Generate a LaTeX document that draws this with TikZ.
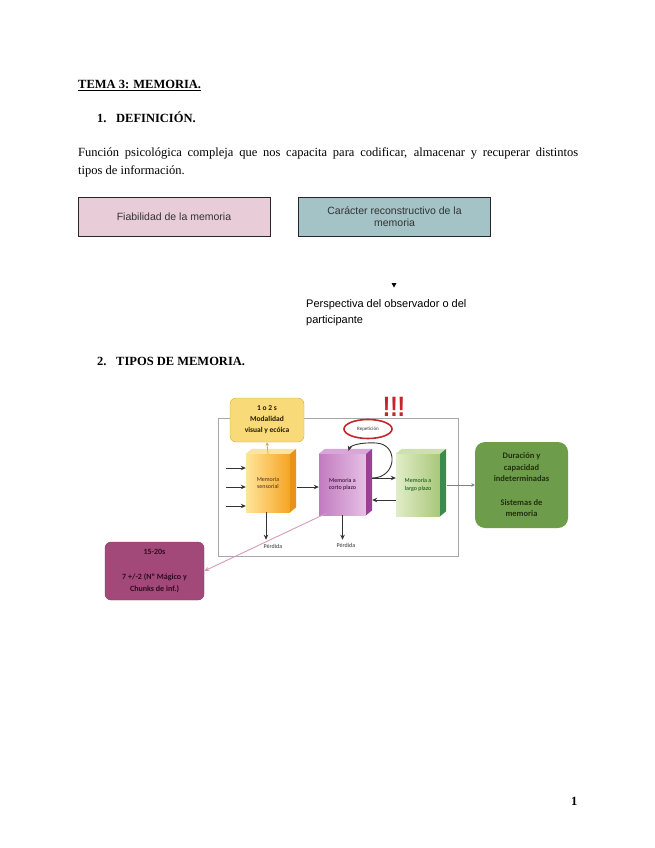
\documentclass[tikz,border=0pt]{standalone}
\usepackage{fontspec}
\usepackage{graphicx}
\setmainfont{Liberation Serif}
\newfontfamily\arialfont{Liberation Sans}
\newfontfamily\calfont{Carlito}
\usetikzlibrary{arrows.meta,positioning,shapes.geometric}

\definecolor{fiabpink}{HTML}{E8CCD8}
\definecolor{recteal}{HTML}{A3C3C6}
\definecolor{ylwfill}{HTML}{F8DA78}
\definecolor{ylwedge}{HTML}{D4A94A}
\definecolor{grnfill}{HTML}{6D9C4A}
\definecolor{grntext}{HTML}{23300F}
\definecolor{plmfill}{HTML}{A3497A}
\definecolor{plmtext}{HTML}{2E0A1E}
\definecolor{exred}{HTML}{C1272D}
\definecolor{framegray}{HTML}{A8A8A8}
\definecolor{arrgray}{HTML}{333333}
\definecolor{pinkline}{HTML}{D89AB8}
\definecolor{sensA}{HTML}{FFE59A}
\definecolor{sensB}{HTML}{F5A423}
\definecolor{sensTop}{HTML}{FDE3A0}
\definecolor{sensSide}{HTML}{E8921C}
\definecolor{cortoA}{HTML}{C27BC0}
\definecolor{cortoB}{HTML}{E6C0E4}
\definecolor{cortoTop}{HTML}{D9A6D8}
\definecolor{cortoSide}{HTML}{9C3F96}
\definecolor{largoA}{HTML}{E0EDC8}
\definecolor{largoB}{HTML}{A9C77A}
\definecolor{largoTop}{HTML}{CFE0B0}
\definecolor{largoSide}{HTML}{3E8A4E}

% top and right faces of a memory cube
\newcommand{\cubefaces}[3]{%
  \fill[#2] (#1.north west) -- ++(6,-5) -- ([shift={(6,-5)}]#1.north east) -- (#1.north east) -- cycle;
  \fill[#3] (#1.north east) -- ++(6,-5) -- ([shift={(6,-5)}]#1.south east) -- (#1.south east) -- cycle;
}

\begin{document}
\begin{tikzpicture}[
    x=1pt, y=-1pt,
    txt/.style={anchor=base west, inner sep=0pt, font=\fontsize{12.5}{15}\selectfont},
    hdr/.style={txt, font=\bfseries\fontsize{12.5}{15}\selectfont},
    topbox/.style={draw=black!85, line width=0.8pt, minimum width=192, minimum height=39, align=center, text=black!80, font=\arialfont\fontsize{10.5}{12.5}\selectfont},
    cube/.style={minimum width=44, minimum height=58, inner sep=0pt, align=center, font=\calfont\fontsize{6}{7.5}\selectfont},
    roundbox/.style={rounded corners=6pt, align=center, inner sep=0pt},
    arr/.style={-{Stealth[length=5pt,width=4.5pt]}, line width=0.9pt, draw=arrgray},
    smalllab/.style={font=\calfont\fontsize{6}{7}\selectfont, text=arrgray, inner sep=0pt}
]
\useasboundingbox (0,0) rectangle (655,848);

% headings and text
\node[hdr] (tema) at (78,89) {\underline{TEMA 3: MEMORIA.}};
\node[hdr] (num1) at (97,122) {1.};
\node[hdr] (defin) at (116,122) {DEFINICIÓN.};
\node[txt] (par1) at (78,157) {\makebox[500pt][s]{Función psicológica compleja que nos capacita para codificar, almacenar y recuperar distintos}};
\node[txt] (par2) at (78,174) {tipos de información.};

\node[topbox, fill=fiabpink] (fiab) at (174,216.5) {Fiabilidad de la memoria};
\node[topbox, fill=recteal] (recon) at (394.5,216.5) {Carácter reconstructivo de la\\memoria};

\fill (391.5,283) -- (396.5,283) -- (394,287.5) -- cycle;
\node[txt, font=\arialfont\fontsize{11}{13}\selectfont] (persp1) at (306,307) {Perspectiva del observador o del};
\node[txt, font=\arialfont\fontsize{11}{13}\selectfont] (persp2) at (306,323) {participante};

\node[hdr] (num2) at (97,365) {2.};
\node[hdr] (tipos) at (116,365) {TIPOS DE MEMORIA.};

% memory model
\node[draw=framegray, line width=0.7pt, minimum width=240, minimum height=138] (frame) at (338,487) {};

\node[roundbox, draw=ylwedge, fill=ylwfill, minimum width=74, minimum height=44, text=black!80!brown, font=\calfont\bfseries\fontsize{7.5}{11}\selectfont] (senstime) at (267,420) {1 o 2 s\\Modalidad\\visual y ecóica};
\node[font=\arialfont\bfseries\fontsize{28}{28}\selectfont, text=exred, inner sep=0pt] (excl) at (394,407) {\scalebox{0.8}[1]{!!!}};
\node[ellipse, draw=exred, line width=1.6pt, fill=white, minimum width=48, minimum height=19, inner sep=0pt, font=\calfont\fontsize{5}{6}\selectfont, text=arrgray] (rep) at (368,429) {Repetición};

\node[cube, left color=sensA, right color=sensB, text=black!60!brown] (sens) at (268,483) {Memoria\\sensorial};
\cubefaces{sens}{sensTop}{sensSide}
\node[cube, minimum width=47, minimum height=61, left color=cortoA, right color=cortoB, text=black!70!violet] (corto) at (342.5,484.5) {Memoria a\\corto plazo};
\cubefaces{corto}{cortoTop}{cortoSide}
\node[cube, minimum height=62, left color=largoA, right color=largoB, text=black!70!green] (largo) at (418,485) {Memoria a\\largo plazo};
\cubefaces{largo}{largoTop}{largoSide}

\node[roundbox, rounded corners=10pt, fill=grnfill, minimum width=93, minimum height=86, text=grntext, font=\calfont\bfseries\fontsize{8.5}{11.5}\selectfont] (indet) at (521.5,485) {Duración y\\capacidad\\indeterminadas\\[12pt]Sistemas de\\memoria};
\node[roundbox, draw=plmfill!80!black, fill=plmfill, minimum width=99, minimum height=58, text=plmtext, font=\calfont\bfseries\fontsize{8}{12}\selectfont] (stm) at (154.5,571) {15-20s\\[13pt]7 +/-2 (Nº Mágico y\\Chunks de inf.)};

\node[smalllab] (perd1) at (273,546) {Pérdida};
\node[smalllab] (perd2) at (346,545) {Pérdida};

\coordinate (in1) at (226,468);
\coordinate (in2) at (226,487);
\coordinate (in3) at (226,506);

\draw[arr] (in1) -- (in1 -| sens.west);
\draw[arr] (in2) -- (in2 -| sens.west);
\draw[arr] (in3) -- (in3 -| sens.west);
\draw[arr] ([xshift=7pt,yshift=-4pt]sens.east) -- ([yshift=-2.5pt]corto.west);
\draw[arr] ([xshift=6pt,yshift=6.5pt]corto.east) -- ([yshift=7pt]largo.west);
\draw[arr] ([yshift=-15pt]largo.west) -- ([xshift=6pt,yshift=-15.5pt]corto.east);
\draw[arr] ([xshift=6pt,yshift=6.5pt]corto.east) .. controls (397,478) and (399,444) .. (376,443) .. controls (360,442) and (350,446) .. ([xshift=6pt,yshift=3pt]corto.north);
\draw[arr] ([xshift=-2pt]sens.south) -- ([xshift=-2pt,yshift=4pt]perd1.north -| sens.south);
\draw[arr] (corto.south) -- ([yshift=3pt]perd2.north -| corto.south);
\draw[-{Stealth[length=3.5pt,width=3.5pt]}, line width=0.7pt, draw=ylwedge] (sens.north) -- (senstime.south);
\draw[-{Stealth[length=3.5pt,width=3.5pt]}, line width=0.7pt, draw=gray] ([xshift=7pt]largo.east) -- (indet.west);
\draw[-{Stealth[length=5pt,width=4.5pt]}, line width=0.9pt, draw=pinkline] ([xshift=-15.5pt,yshift=-28.5pt]corto.center) -- (stm.east);

\node[txt, font=\bfseries\fontsize{12.5}{15}\selectfont] (pagenum) at (571,805) {1};
\end{tikzpicture}
\end{document}
